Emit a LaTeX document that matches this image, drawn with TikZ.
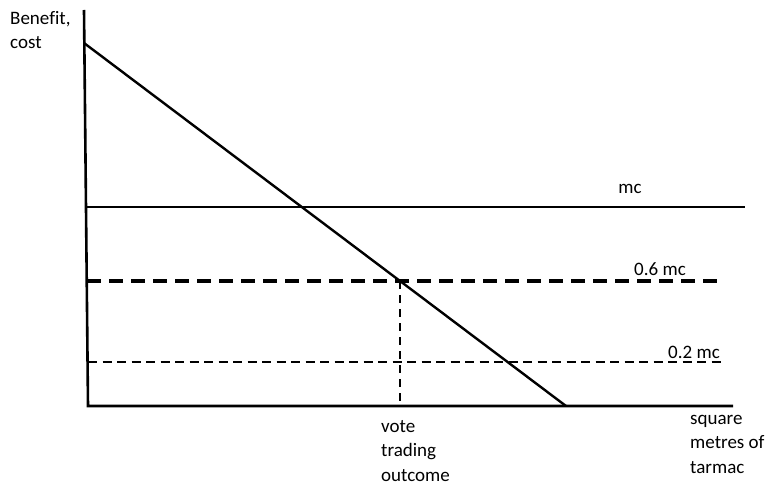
\documentclass[tikz,border=0pt]{standalone}
\usepackage{fontspec}
\setmainfont[Ligatures=NoCommon]{Carlito}
\begin{document}
\begin{tikzpicture}[x=1pt,y=-1pt,
  axis/.style={line width=2.6pt},
  curve/.style={line width=2.4pt},
  mcline/.style={line width=2pt},
  dashA/.style={line width=3.8pt,dash pattern=on 14pt off 8pt},
  dashB/.style={line width=2.5pt,dash pattern=on 9pt off 5.5pt},
  dashV/.style={line width=2.5pt,dash pattern=on 8pt off 6pt},
  lbl/.style={font=\fontsize{19}{24.5}\selectfont,inner sep=0pt,align=left}]
\useasboundingbox (0,0) rectangle (766,489);
% axes
\coordinate (ytop) at (84,10);
\coordinate (origin) at (88,406);
\coordinate (xend) at (733,406);
\draw[axis] (ytop) -- (origin) -- (xend);
% demand
\coordinate (dtop) at (84,43);
\coordinate (dbot) at (566,406);
\draw[curve] (dtop) -- (dbot);
% mc
\coordinate (mcl) at (86,207);
\coordinate (mcr) at (745,207);
\draw[mcline] (mcl) -- (mcr);
% 0.6 mc
\coordinate (sixl) at (87,281);
\coordinate (sixr) at (718,281);
\draw[dashA] (sixl) -- (sixr);
% 0.2 mc
\coordinate (twol) at (88,362);
\coordinate (twor) at (724,362);
\draw[dashB] (twol) -- (twor);
% vertical
\coordinate (vtop) at (400,281);
\coordinate (vbot) at (400,406);
\draw[dashV] (vtop) -- (vbot);
% labels
\node[lbl,anchor=north west] (ylab) at (10,11) {Benefit,\\cost};
\node[lbl] (mclab) at (630,189) {mc};
\node[lbl] (sixlab) at (660,269) {0.6 mc};
\node[lbl] (twolab) at (694,352) {0.2 mc};
\node[lbl,anchor=north west] (votelab) at (381,420) {vote\\trading\\outcome};
\node[lbl,anchor=north west] (xlab) at (690,415) {square\\metres of\\tarmac};
\end{tikzpicture}
\end{document}
